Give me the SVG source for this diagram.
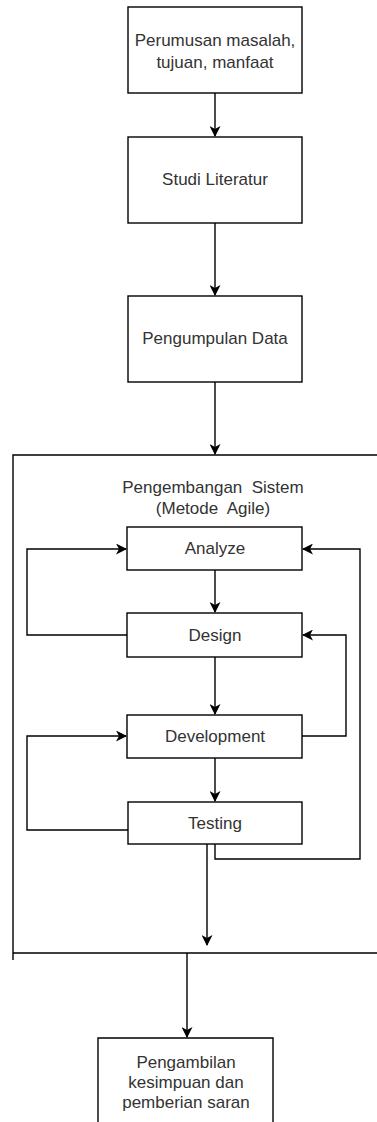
<svg xmlns="http://www.w3.org/2000/svg" width="377" height="1122" viewBox="0 0 377 1122">
<style>
.box{fill:#fff;stroke:#000;stroke-width:1.4}
.t{font-family:"Liberation Sans",Arial,sans-serif;font-size:17px;fill:#333;text-anchor:middle}
.pre{white-space:pre}
.c{fill:none;stroke:#000;stroke-width:1.4}
.a{marker-end:url(#ah)}
</style>
<defs>
<marker id="ah" markerWidth="11" markerHeight="11" refX="10" refY="5.5" orient="auto" markerUnits="userSpaceOnUse">
<path d="M0,0 L11,5.5 L0,11 L3,5.5 z" fill="#000"/>
</marker>
</defs>
<rect width="377" height="1122" fill="#fff"/>
<g id="container">
<path class="c" d="M377,455 H13 V960 M13,953 H377"/>
<text class="t pre" x="213" y="493" xml:space="preserve">Pengembangan  Sistem</text>
<text class="t pre" x="213" y="514" xml:space="preserve">(Metode  Agile)</text>
</g>
<g id="n1"><rect class="box" x="128" y="7" width="174" height="86"/>
<text class="t" x="215" y="46">Perumusan masalah,</text>
<text class="t" x="215" y="68">tujuan, manfaat</text></g>
<g id="n2"><rect class="box" x="128" y="137" width="174" height="86"/>
<text class="t" x="215" y="185">Studi Literatur</text></g>
<g id="n3"><rect class="box" x="128" y="296" width="174" height="86"/>
<text class="t" x="215" y="344">Pengumpulan Data</text></g>
<g id="analyze"><rect class="box" x="127" y="527" width="175" height="43"/>
<text class="t" x="215" y="554">Analyze</text></g>
<g id="design"><rect class="box" x="127" y="613" width="175" height="44"/>
<text class="t" x="215" y="641">Design</text></g>
<g id="development"><rect class="box" x="127" y="715" width="175" height="43"/>
<text class="t" x="215" y="742">Development</text></g>
<g id="testing"><rect class="box" x="128" y="802" width="174" height="42"/>
<text class="t" x="215" y="829">Testing</text></g>
<g id="final"><path class="box" d="M98,1122 V1038 H273 V1122"/>
<text class="t" x="186" y="1068">Pengambilan</text>
<text class="t" x="186" y="1088">kesimpuan dan</text>
<text class="t" x="186" y="1108">pemberian saran</text></g>
<g id="connectors">
<path class="c a" d="M215,93 V136"/>
<path class="c a" d="M215,223 V295"/>
<path class="c a" d="M215,382 V454"/>
<path class="c a" d="M215,570 V612"/>
<path class="c a" d="M215,657 V714"/>
<path class="c a" d="M215,758 V801"/>
<path class="c a" d="M127,635 H27 V549 H126"/>
<path class="c a" d="M302,736 H346 V635 H303"/>
<path class="c a" d="M128,830 H27 V736 H126"/>
<path class="c a" d="M215,844 V859 H360 V549 H303"/>
<path class="c a" d="M207,844 V945"/>
<path class="c a" d="M187,953 V1037"/>
</g>
</svg>
